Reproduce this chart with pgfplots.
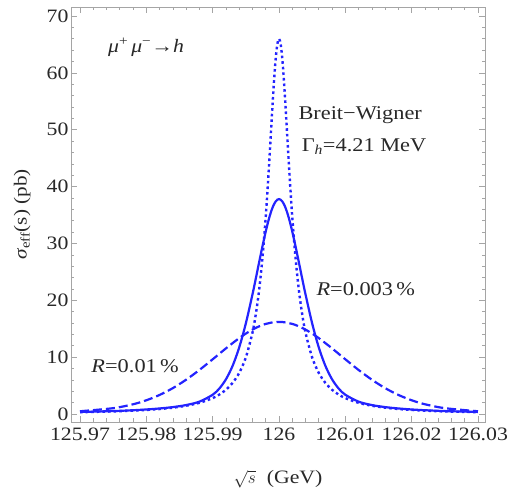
\documentclass[border=0pt]{standalone}
\usepackage{fontspec}
\setmainfont[FakeStretch=1.15]{Liberation Serif}
\usepackage{pgfplots}
\usepackage{pgfplotstable}
\pgfplotsset{compat=1.18}

\definecolor{curve}{RGB}{35,35,255}
\definecolor{frame}{RGB}{165,165,165}
\definecolor{txt}{RGB}{40,40,40}

% x = sqrt(s) - 126 GeV in MeV; bw = Breit-Wigner, sm = R=0.003%, lg = R=0.01%
\pgfplotstableread{
x     bw    sm    lg
-30   0.32  0.37  0.49
-25   0.46  0.52  1.03
-22   0.60  0.67  1.72
-20   0.72  0.80  2.42
-18   0.88  0.98  3.36
-16   1.12  1.22  4.56
-14   1.46  1.58  6.04
-12   1.97  2.18  7.75
-10   2.80  3.39  9.63
-9    3.42  4.48  10.59
-8    4.27  6.11  11.55
-7    5.47  8.46  12.47
-6    7.23  11.71 13.35
-5    9.94  15.94 14.15
-4    14.31 21.04 14.85
-3.5  17.53 23.82 15.15
-3    21.77 26.67 15.42
-2.5  27.38 29.47 15.66
-2    34.69 32.10 15.85
-1.75 39.03 33.31 15.92
-1.5  43.77 34.41 15.99
-1.25 48.79 35.39 16.06
-1    53.85 36.23 16.11
-0.75 58.57 36.90 16.15
-0.5  62.48 37.40 16.18
-0.25 65.08 37.70 16.19
0     66.00 37.80 16.20
0.25  65.08 37.70 16.19
0.5   62.48 37.40 16.18
0.75  58.57 36.90 16.15
1     53.85 36.23 16.11
1.25  48.79 35.39 16.06
1.5   43.77 34.41 15.99
1.75  39.03 33.31 15.92
2     34.69 32.10 15.85
2.5   27.38 29.47 15.66
3     21.77 26.67 15.42
3.5   17.53 23.82 15.15
4     14.31 21.04 14.85
5     9.94  15.94 14.15
6     7.23  11.71 13.35
7     5.47  8.46  12.47
8     4.27  6.11  11.55
9     3.42  4.48  10.59
10    2.80  3.39  9.63
12    1.97  2.18  7.75
14    1.46  1.58  6.04
16    1.12  1.22  4.56
18    0.88  0.98  3.36
20    0.72  0.80  2.42
22    0.60  0.67  1.72
25    0.46  0.52  1.03
30    0.32  0.37  0.49
}\xsec

\begin{document}
\begin{tikzpicture}
\begin{axis}[
  name=ax,
  scale only axis,
  width=414bp, height=415bp,
  xmin=-31.36, xmax=31.06,
  ymin=-1.4, ymax=71.6,
  xtick={-30,-20,...,30},
  xticklabels={125.97,125.98,125.99,126,126.01,126.02,126.03},
  ytick={0,10,...,70},
  minor x tick num=4, minor y tick num=4,
  tick align=inside,
  major tick length=6bp, minor tick length=3.5bp,
  axis line style={frame, line width=0.8bp},
  tick style={frame, line width=0.7bp},
  ticklabel style={font=\fontsize{19}{21}\selectfont, text=txt},
  xticklabel style={yshift=-2bp},
  yticklabel style={xshift=1bp},
  /pgf/number format/assume math mode=true,
  xlabel={$\sqrt{s}$\ \ (GeV)},
  ylabel={\textit{σ}\textsubscript{eff}(s) (pb)},
  every axis x label/.style={at={(axis description cs:0.5,-0.137)}, anchor=center,
    font=\fontsize{19}{21}\selectfont, text=txt},
  every axis y label/.style={at={(axis description cs:-0.118,0.5)}, rotate=90, anchor=center,
    font=\fontsize{18.5}{21}\selectfont, text=txt},
]
\addplot[curve, line width=2.2bp, smooth] table[x=x, y=sm] {\xsec};
\addplot[curve, line width=2.2bp, smooth, dash pattern=on 9bp off 4bp] table[x=x, y=lg] {\xsec};
\addplot[curve, line width=2.4bp, smooth, dash pattern=on 2.6bp off 3bp] table[x=x, y=bw] {\xsec};

\node[text=txt, font=\fontsize{19}{22}\selectfont] at (axis cs:-20.05,64.5)
  {\textit{μ}\textsuperscript{+}\,\textit{μ}\textsuperscript{−}→\textit{h}};
\node[text=txt, font=\fontsize{19.5}{22}\selectfont, anchor=west] at (axis cs:2.41,52.6) {Breit−Wigner};
\node[text=txt, font=\fontsize{19.5}{22}\selectfont, anchor=west] at (axis cs:2.9,47.1) {Γ\textsubscript{\textit{h}}=4.21 MeV};
\node[text=txt, font=\fontsize{19.5}{22}\selectfont, anchor=west] at (axis cs:5.13,22.0) {\textit{R}=0.003\,\%};
\node[text=txt, font=\fontsize{19.5}{22}\selectfont, anchor=west] at (axis cs:-28.8,8.4) {\textit{R}=0.01\,\%};
\end{axis}
% page = reference margins around the frame
\pgfresetboundingbox
\path ([shift={(-71bp,-76bp)}]ax.south west) rectangle ([shift={(22bp,7bp)}]ax.north east);
\end{tikzpicture}
\end{document}
